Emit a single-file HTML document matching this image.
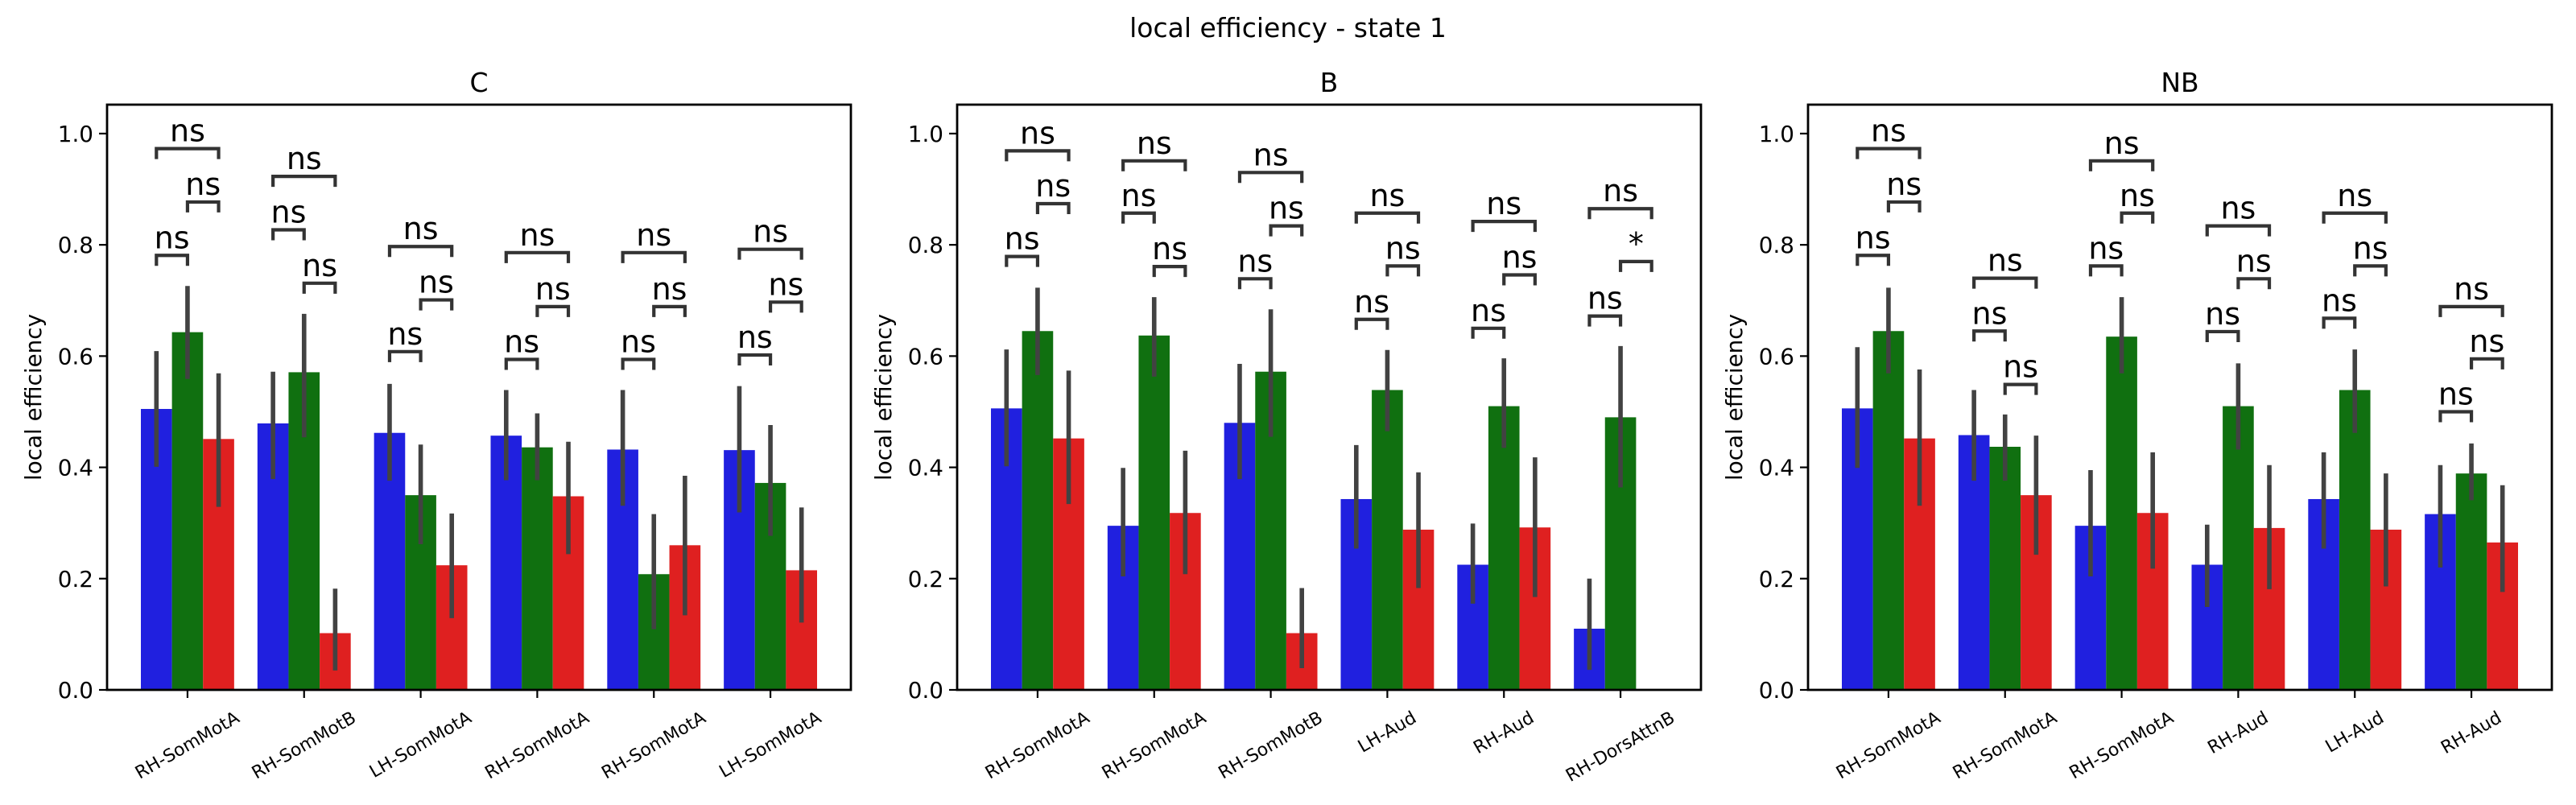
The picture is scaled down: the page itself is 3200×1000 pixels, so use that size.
<!DOCTYPE html>
<html><head><meta charset="utf-8">
<style>
html,body{margin:0;padding:0;background:#fff;}
svg{display:block;font-family:"DejaVu Sans","Liberation Sans",sans-serif;}
</style></head>
<body>
<svg id="fig" width="3200" height="1000" viewBox="0 0 3200 1000" xmlns="http://www.w3.org/2000/svg">
<rect x="0" y="0" width="3200" height="1000" fill="#fff"/>
<text x="1600" y="46" text-anchor="middle" font-size="33">local efficiency - state 1</text>
</svg>
<script>
// ---- data ----
const panelTitles = ["C", "B", "NB"];
const categoriesC = ["RH-SomMotA","RH-SomMotB","LH-SomMotA","RH-SomMotA","RH-SomMotA","LH-SomMotA"];
const categoriesB = ["RH-SomMotA","RH-SomMotA","RH-SomMotB","LH-Aud","RH-Aud","RH-DorsAttnB"];
const categoriesNB = ["RH-SomMotA","RH-SomMotA","RH-SomMotA","RH-Aud","LH-Aud","RH-Aud"];
const yTicks = [0.0, 0.2, 0.4, 0.6, 0.8, 1.0];
const yTickLabels = ["0.0","0.2","0.4","0.6","0.8","1.0"];

const blueC  = [0.505,0.479,0.462,0.457,0.432,0.431];
const greenC = [0.643,0.571,0.350,0.436,0.208,0.372];
const redC   = [0.451,0.102,0.224,0.348,0.260,0.215];
const blueLoC=[0.401,0.379,0.376,0.377,0.331,0.319], blueHiC=[0.609,0.572,0.550,0.539,0.539,0.546];
const greenLoC=[0.559,0.454,0.262,0.377,0.109,0.277], greenHiC=[0.726,0.676,0.441,0.497,0.316,0.476];
const redLoC=[0.329,0.035,0.129,0.244,0.134,0.121], redHiC=[0.569,0.182,0.317,0.446,0.385,0.328];
const bracketBGC=[0.781,0.827,0.608,0.594,0.594,0.602];
const bracketGRC=[0.877,0.731,0.701,0.689,0.689,0.697];
const bracketBRC=[0.973,0.923,0.797,0.786,0.786,0.792];
const signifC=[["ns","ns","ns"],["ns","ns","ns"],["ns","ns","ns"],["ns","ns","ns"],["ns","ns","ns"],["ns","ns","ns"]];

const blueB  = [0.506,0.295,0.480,0.343,0.225,0.110];
const greenB = [0.645,0.637,0.572,0.539,0.510,0.490];
const redB   = [0.452,0.318,0.102,0.288,0.292,0.0];
const blueLoB=[0.402,0.204,0.379,0.254,0.155,0.036], blueHiB=[0.612,0.399,0.586,0.440,0.299,0.200];
const greenLoB=[0.566,0.563,0.455,0.465,0.435,0.364], greenHiB=[0.723,0.706,0.684,0.611,0.596,0.618];
const redLoB=[0.334,0.208,0.039,0.183,0.167,null], redHiB=[0.574,0.430,0.183,0.391,0.418,null];
const bracketBGB=[0.779,0.857,0.739,0.666,0.650,0.672];
const bracketGRB=[0.874,0.761,0.834,0.762,0.746,0.770];
const bracketBRB=[0.969,0.951,0.930,0.857,0.842,0.865];
const signifB=[["ns","ns","ns"],["ns","ns","ns"],["ns","ns","ns"],["ns","ns","ns"],["ns","ns","ns"],["ns","*","ns"]];

const blueNB  = [0.506,0.458,0.295,0.225,0.343,0.316];
const greenNB = [0.645,0.437,0.635,0.510,0.539,0.389];
const redNB   = [0.452,0.350,0.318,0.291,0.288,0.265];
const blueLoNB=[0.399,0.376,0.204,0.149,0.254,0.220], blueHiNB=[0.616,0.539,0.395,0.297,0.427,0.404];
const greenLoNB=[0.569,0.376,0.569,0.432,0.462,0.341], greenHiNB=[0.723,0.495,0.706,0.587,0.612,0.443];
const redLoNB=[0.331,0.243,0.218,0.181,0.186,0.176], redHiNB=[0.576,0.457,0.427,0.404,0.389,0.368];
const bracketBGNB=[0.781,0.645,0.762,0.644,0.668,0.500];
const bracketGRNB=[0.877,0.549,0.857,0.739,0.762,0.595];
const bracketBRNB=[0.973,0.740,0.951,0.834,0.857,0.689];
const signifNB=[["ns","ns","ns"],["ns","ns","ns"],["ns","ns","ns"],["ns","ns","ns"],["ns","ns","ns"],["ns","ns","ns"]];

// ---- drawing ----
const NS="http://www.w3.org/2000/svg";
const svg=document.getElementById("fig");
const colors=["#2020df","#107010","#df2020"];
const panels=[
 {left:133, cats:categoriesC, vals:[blueC,greenC,redC], lo:[blueLoC,greenLoC,redLoC], hi:[blueHiC,greenHiC,redHiC], br:[bracketBGC,bracketGRC,bracketBRC], sig:signifC},
 {left:1189, cats:categoriesB, vals:[blueB,greenB,redB], lo:[blueLoB,greenLoB,redLoB], hi:[blueHiB,greenHiB,redHiB], br:[bracketBGB,bracketGRB,bracketBRB], sig:signifB},
 {left:2246, cats:categoriesNB, vals:[blueNB,greenNB,redNB], lo:[blueLoNB,greenLoNB,redLoNB], hi:[blueHiNB,greenHiNB,redHiNB], br:[bracketBGNB,bracketGRNB,bracketBRNB], sig:signifNB}
];
const W=924, TOP=130, BOT=857, YMAX=1.052;
function mk(tag,attrs,parent){const e=document.createElementNS(NS,tag);for(const k in attrs)e.setAttribute(k,attrs[k]);(parent||svg).appendChild(e);return e;}
function yPx(v){return BOT-v*(BOT-TOP)/YMAX;}

panels.forEach((p,pi)=>{
  const g=mk("g",{});
  
  
  const unit=W/6.38;
  const xPx=i=>p.left+W*(i+0.69)/6.38;
  const bw=0.8/3*unit;
  for(let s=0;s<3;s++){
    for(let i=0;i<6;i++){
      const v=p.vals[s][i];
      const cx=xPx(i)+(s-1)*bw;
      if(v>0){
        const r=mk("rect",{x:cx-bw/2,y:yPx(v),width:bw,height:yPx(0)-yPx(v),fill:colors[s]},g);
        
        
      }
    }
  }
  for(let s=0;s<3;s++){
    for(let i=0;i<6;i++){
      const lo=p.lo[s][i],hi=p.hi[s][i];
      if(lo===null)continue;
      const cx=xPx(i)+(s-1)*bw;
      const l=mk("line",{x1:cx,x2:cx,y1:yPx(lo),y2:yPx(hi),stroke:"#424242","stroke-width":5.6},g);
      
      
    }
  }
  const pairs=[[0,1],[1,2],[0,2]];
  for(let i=0;i<6;i++){
    pairs.forEach((pr,k)=>{
      const x1=xPx(i)+(pr[0]-1)*bw, x2=xPx(i)+(pr[1]-1)*bw;
      const y=yPx(p.br[k][i]);
      const b=mk("path",{d:`M${x1},${y+13}V${y}H${x2}V${y+13}`,fill:"none",stroke:"#333","stroke-width":4.2},g);
      
      
      const t=mk("text",{x:(x1+x2)/2,y:y-9,"text-anchor":"middle","font-size":38,fill:"#000"},g);
      t.textContent=p.sig[i][k];
      
      
    });
  }
  const fr=mk("rect",{x:p.left,y:TOP,width:W,height:BOT-TOP,fill:"none",stroke:"#000","stroke-width":2.8},g);
  
  
  yTicks.forEach((v,k)=>{
    const y=yPx(v);
    mk("line",{x1:p.left-10,x2:p.left,y1:y,y2:y,stroke:"#000","stroke-width":2.2},g);
    const t=mk("text",{x:p.left-17,y:y+10,"text-anchor":"end","font-size":27.8},g);
    t.textContent=yTickLabels[k];
    
    
  });
  p.cats.forEach((c,i)=>{
    const x=xPx(i);
    mk("line",{x1:x,x2:x,y1:BOT,y2:BOT+10,stroke:"#000","stroke-width":2.2},g);
    const t=mk("text",{"text-anchor":"middle","dominant-baseline":"central","font-size":22},g);
    t.textContent=c;
    
    
    const L=t.getComputedTextLength();
    const half=(L*0.5+22*1.17*0.866)/2;
    t.setAttribute("transform",`translate(${x},${879+half}) rotate(-30)`);
  });
  const yl=mk("text",{transform:`translate(${p.left-82},${(TOP+BOT)/2}) rotate(-90)`,"text-anchor":"middle","font-size":27.8},g);
  yl.textContent="local efficiency";
  
  
  const ti=mk("text",{x:p.left+W/2,y:114,"text-anchor":"middle","font-size":33},g);
  ti.textContent=panelTitles[pi];
  
  
});
</script>
</body></html>
